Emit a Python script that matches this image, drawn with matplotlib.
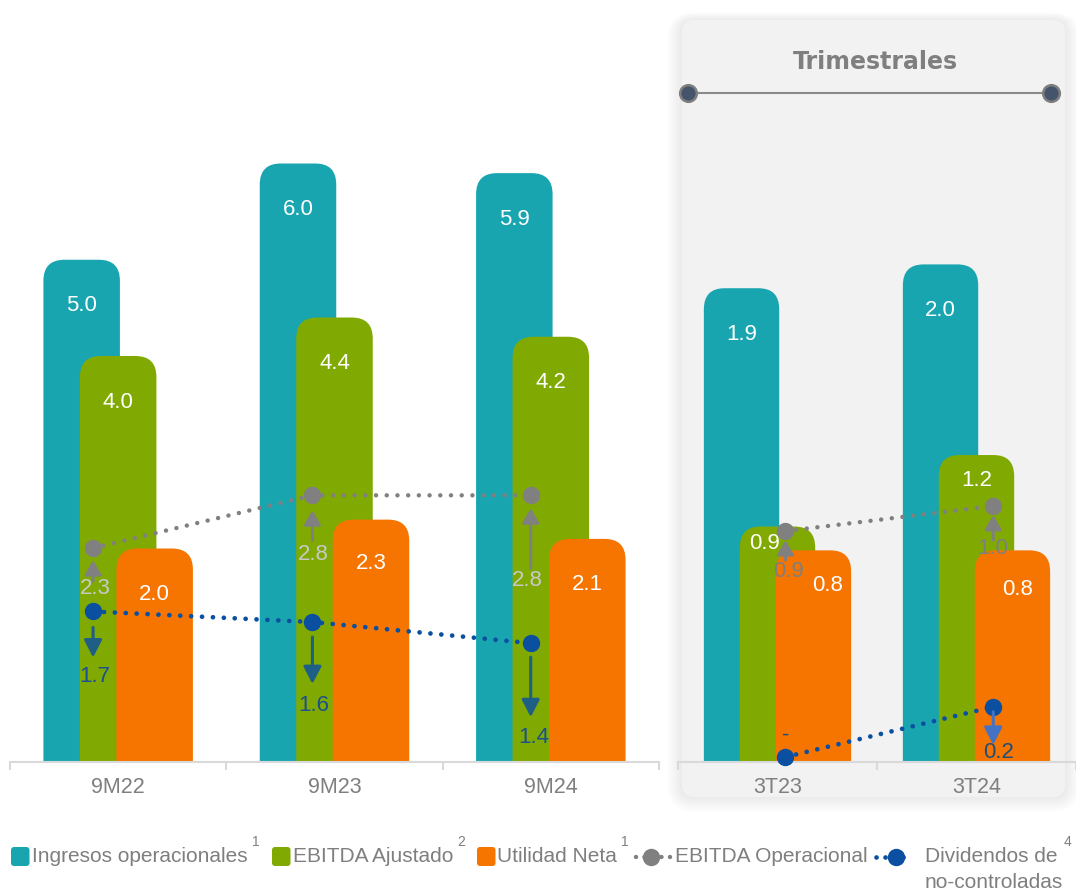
import matplotlib
matplotlib.use('Agg')
import matplotlib.pyplot as plt
from matplotlib.patches import FancyBboxPatch
from matplotlib.lines import Line2D

plt.rcParams['font.family'] = ['Liberation Sans', 'DejaVu Sans']

# data (billions)
periodos_anual = ['9M22', '9M23', '9M24']
ingresos_anual = [5.0, 6.0, 5.9]
ebitda_aj_anual = [4.0, 4.4, 4.2]
utilidad_anual = [2.0, 2.3, 2.1]
ebitda_op_anual = [2.3, 2.8, 2.8]
dividendos_anual = [1.7, 1.6, 1.4]

periodos_trim = ['3T23', '3T24']
ingresos_trim = [1.9, 2.0]
ebitda_aj_trim = [0.9, 1.2]
utilidad_trim = [0.8, 0.8]
ebitda_op_trim = [0.9, 1.0]
dividendos_trim = [0.0, 0.2]

TEAL = '#19a5b0'
GREEN = '#80aa02'
ORANGE = '#f57500'
GRAY = '#808080'
BLUE = '#0a4fa0'
TXT = '#7f7f7f'

W, H = 1076, 894
fig = plt.figure(figsize=(W / 100, H / 100), dpi=100)


def fig_rect(left, top, width, height):
    return [left / W, 1 - (top + height) / H, width / W, height / H]


def inch_box(x0, y0, x1, y1):
    return x0 / 100, (H - y1) / 100, (x1 - x0) / 100, (y1 - y0) / 100


# quarterly panel with soft shadow
for i in range(10, 0, -1):
    e = i * 1.5
    x, y, w, h = inch_box(682 - e, 20 - e * 0.5, 1065 + e, 797 + e)
    fig.add_artist(FancyBboxPatch((x, y), w, h, boxstyle=f"round,pad=0,rounding_size={0.12 + e / 100}",
                                  transform=fig.dpi_scale_trans, fc='black', ec='none',
                                  alpha=0.006, zorder=-3))
x, y, w, h = inch_box(682, 20, 1065, 797)
fig.add_artist(FancyBboxPatch((x, y), w, h, boxstyle="round,pad=0,rounding_size=0.12",
                              transform=fig.dpi_scale_trans, fc='#f2f2f2', ec='none', zorder=-2))
fig.text(875 / W, 1 - 62 / H, 'Trimestrales', family='DejaVu Sans', weight='bold',
         fontsize=17, color=TXT, ha='center', va='center')
fig.add_artist(Line2D([688 / W, 1051 / W], [1 - 93 / H] * 2, color='#8a8a8a', lw=1.5,
                      marker='o', markersize=12, markerfacecolor='#44546a',
                      markeredgecolor='#7f7f7f', markeredgewidth=1.8))


def setup(ax, labels, xmax):
    ax.set_xlim(-0.5, xmax)
    ax.patch.set_visible(False)
    for s in ['top', 'left', 'right']:
        ax.spines[s].set_visible(False)
    ax.spines['bottom'].set_color('#d9d9d9')
    ax.spines['bottom'].set_linewidth(1.5)
    ax.set_yticks([])
    ax.set_xticks(range(len(labels)))
    ax.set_xticklabels(labels, fontsize=15.5, color=TXT)
    ax.tick_params(axis='x', which='major', length=0, pad=11)
    ax.set_xticks([i - 0.5 for i in range(len(labels) + 1)], minor=True)
    ax.tick_params(axis='x', which='minor', length=6, width=1.5, color='#d9d9d9')


def round_bar(ax, x, h, w, color, px_x, px_y, r=21):
    p = r / px_x
    m = (r / px_y) / p
    ax.add_patch(FancyBboxPatch((x - w / 2 + p, -1), w - 2 * p, h + 1,
                                boxstyle=f"round,pad={p}", mutation_aspect=m,
                                fc=color, ec='none'))


def panel(left, width, px_x, px_y, line_scale, line_zero, labels, series, lab_offs,
          op_vals, div_vals, op_dx, div_dx, op_arrows, div_arrows, op_lab_color,
          div_arrow_color, div_lab_color, div_texts):
    ax = fig.add_axes(fig_rect(left, 0, width, 762))
    setup(ax, labels, -0.5 + width / px_x)
    ax.set_ylim(0, 762 / px_y)
    bw = 76.5 / px_x
    off = 36.5 / px_x
    for k, (vals, color) in enumerate(series):
        for i, v in enumerate(vals):
            xc = i + (k - 1) * off
            round_bar(ax, xc, v, bw, color, px_x, px_y)
            dx, dy = lab_offs[k][i]
            ax.annotate(f'{v:.1f}', xy=(xc, v), xytext=(dx * 0.72, -dy * 0.72),
                        textcoords='offset points', ha='center', va='center',
                        color='white', fontsize=16)

    al = ax.twinx()
    al.set_ylim(-line_zero / line_scale, (762 - line_zero) / line_scale)
    al.axis('off')
    xo = [i + d for i, d in enumerate(op_dx)]
    xd = [i + d for i, d in enumerate(div_dx)]
    al.plot(xo, op_vals, color=GRAY, lw=3.2, linestyle=(0, (0.01, 2.4)),
            dash_capstyle='round', marker='o', markersize=11.5, clip_on=False)
    al.plot(xd, div_vals, color=BLUE, lw=3.4, linestyle=(0, (0.01, 2.3)),
            dash_capstyle='round', marker='o', markersize=11.5, clip_on=False)

    for i, v in enumerate(op_vals):
        tip, tail, lab, ldx = op_arrows[i]
        al.annotate('', xy=(xo[i], v), xytext=(0, -tail * 0.72), textcoords='offset points',
                    arrowprops=dict(arrowstyle='-|>,head_length=0.86,head_width=0.5',
                                    color=GRAY, lw=2.2, shrinkA=0, shrinkB=tip * 0.72,
                                    mutation_scale=10))
        al.annotate(f'{v:.1f}', xy=(xo[i], v), xytext=(ldx * 0.72, -lab * 0.72),
                    textcoords='offset points', ha='center', va='center',
                    color=op_lab_color, fontsize=16)
    for i, v in enumerate(div_vals):
        tail, tip, lab, ldx = div_arrows[i]
        if tip is not None:
            al.annotate('', xy=(xd[i], v), xytext=(0, -tip * 0.72), textcoords='offset points',
                        arrowprops=dict(arrowstyle='<|-,head_length=1.05,head_width=0.54',
                                        color=div_arrow_color, lw=2.2, shrinkA=0,
                                        shrinkB=tail * 0.72, mutation_scale=10))
        al.annotate(div_texts[i], xy=(xd[i], v), xytext=(ldx * 0.72, -lab * 0.72),
                    textcoords='offset points', ha='center', va='center',
                    color=div_lab_color, fontsize=16)
    return ax


panel(10, 649, 649 / 3, 96.25, 105.6, -29, periodos_anual,
      [(ingresos_anual, TEAL), (ebitda_aj_anual, GREEN), (utilidad_anual, ORANGE)],
      [[(0, 25)] * 3, [(0, 25)] * 3, [(0, 25), (0, 23), (0, 25)]],
      ebitda_op_anual, dividendos_anual, [-0.116, -0.102, -0.093], [-0.116, -0.102, -0.093],
      [(12, 33, 40, 2), (15, 45, 59, 1), (13, 73, 85, -3)],
      [(16, 46, 65, 2), (15, 62, 83, 1), (14, 74, 94, 3)],
      '#c9c9c9', '#1f5f86', '#1c4f8e', [f'{v:.1f}' for v in dividendos_anual])

panel(678, 398, 202, 238.3, 251, 5, periodos_trim,
      [(ingresos_trim, TEAL), (ebitda_aj_trim, GREEN), (utilidad_trim, ORANGE)],
      [[(0, 25), (0, 25)], [(-13, -4), (0, 4)], [(14, 14), (5, 18)]],
      ebitda_op_trim, dividendos_trim, [0.04, 0.084], [0.04, 0.084],
      [(9, 29, 40, 3), (9, 34, 42, 0)],
      [(0, None, -22, 0), (5, 38, 46, 5)],
      TXT, '#4472c4', '#1f4e79',
      ['-' if v == 0 else f'{v:.1f}' for v in dividendos_trim])

# legend
fig.canvas.draw()
renderer = fig.canvas.get_renderer()


def ftxt(x, y, s, **kw):
    return fig.text(x / W, 1 - y / H, s, color=TXT, va='center', **kw)


def square(x, color):
    bx, by, bw_, bh_ = inch_box(x, 847, x + 18.5, 866)
    fig.add_artist(FancyBboxPatch((bx, by), bw_, bh_, boxstyle="round,pad=0,rounding_size=0.03",
                                  transform=fig.dpi_scale_trans, fc=color, ec='none'))


def sup(t, s):
    x1 = t.get_window_extent(renderer).x1
    fig.text((x1 + 4) / W, 1 - 842 / H, s, color=TXT, fontsize=10, va='center')


def legline(x0, x1, xm, color, lw, pat):
    fig.add_artist(Line2D([x0 / W, x1 / W], [1 - 857 / H] * 2, color=color, lw=lw,
                          linestyle=(0, (0.01, pat)), dash_capstyle='round'))
    fig.add_artist(Line2D([xm / W], [1 - 857 / H], color=color, marker='o', markersize=11.5))


square(11, TEAL)
sup(ftxt(32, 857, 'Ingresos operacionales', fontsize=15), '1')
square(272, GREEN)
sup(ftxt(293, 857, 'EBITDA Ajustado', fontsize=15), '2')
square(477, ORANGE)
sup(ftxt(497, 857, 'Utilidad Neta', fontsize=15), '1')
legline(636, 670, 651, GRAY, 3.2, 1.9)
ftxt(675, 857, 'EBITDA Operacional', fontsize=15)
legline(876, 912, 896, BLUE, 3.4, 1.9)
ftxt(925, 857, 'Dividendos de', fontsize=15)
ftxt(925, 883, 'no-controladas', fontsize=15)
fig.text(1068 / W, 1 - 842 / H, '4', color=TXT, fontsize=10, va='center', ha='center')

fig.savefig('out.png', dpi=100)
